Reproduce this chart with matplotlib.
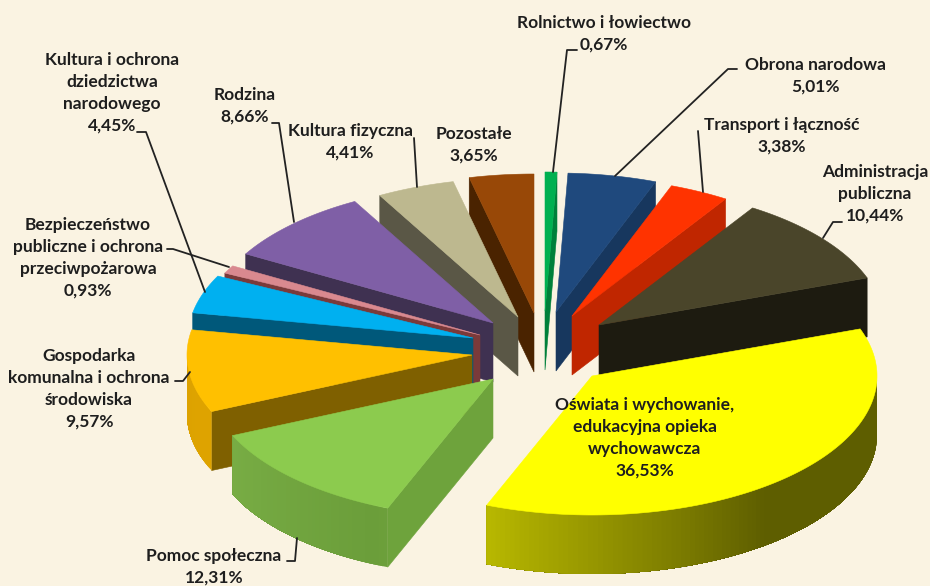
import numpy as np
import matplotlib
matplotlib.use("Agg")
import matplotlib.pyplot as plt
from matplotlib.patches import Polygon

# ---- data (clockwise from the top of the pie) ----
categories = ["Rolnictwo i łowiectwo", "Obrona narodowa", "Transport i łączność",
              "Administracja\npubliczna", "Oświata i wychowanie,\nedukacyjna opieka\nwychowawcza",
              "Pomoc społeczna", "Gospodarka\nkomunalna i ochrona\nśrodowiska",
              "Kultura i ochrona\ndziedzictwa\nnarodowego",
              "Bezpieczeństwo\npubliczne i ochrona\nprzeciwpożarowa",
              "Rodzina", "Kultura fizyczna", "Pozostałe"]
values = [0.67, 5.01, 3.38, 10.44, 36.53, 12.31, 9.57, 4.45, 0.93, 8.66, 4.41, 3.65]

# ---- style ----
top_colors = ["#00B050", "#1F497D", "#FF3300", "#4A452A", "#FFFF00", "#8CCB4E",
              "#FFC000", "#00B0F0", "#D9898F", "#7F5FA6", "#BDB88F", "#984807"]
wall_colors = ["#00803A", "#17375E", "#C02600", "#1D1B10", "#B0B000", "#6EA33C",
               "#7F6000", "#00587A", "#7A3A3A", "#3F3151", "#5A5746", "#4A2300"]
arc_light = ["#00803A", "#17375E", "#C02600", "#1D1B10", "#BDBD00", "#6B9E3A",
             "#E0A600", "#00587A", "#7A3A3A", "#3F3151", "#5A5746", "#4A2300"]
arc_dark = ["#00803A", "#17375E", "#C02600", "#1D1B10", "#5E5E00", "#7FB44A",
            "#DDA200", "#00587A", "#7A3A3A", "#3F3151", "#5A5746", "#4A2300"]
# where each slice's tip sits after being pulled out of the pie (pixels)
tip_x = [545, 556, 572, 599, 592, 493, 472, 473, 480, 493, 518, 534]
tip_y = [311, 312, 316, 325, 376, 379, 355, 338, 335, 323, 317, 313]
radius_x, radius_y, depth = 285, 139, 59
paint_order = [0, 1, 2, 3, 4, 11, 10, 9, 8, 7, 6, 5]

label_x = [604, 815, 782, 875, 645, 214, 89, 112, 88, 245, 350, 474]
label_y = [34, 76, 136, 194, 438, 567, 389, 93, 258, 106, 142, 145]
leaders = [
    [(577, 50), (567, 50), (553, 172)],
    [(737, 69), (728, 69), (615, 176)],
    [(698, 131), (703, 192)],
    [(842, 222), (833, 222), (823, 238)],
    None,
    [(287, 561), (295, 561), (297, 538)],
    [(175, 381), (183, 381), (190, 372)],
    [(137, 132), (146, 132), (205, 292)],
    [(167, 249), (173, 249), (229, 267)],
    [(272, 123), (279, 123), (294, 222)],
    [(414, 138), (417, 187)],
    None,
]
text_color = "#1E1E1E"

fig = plt.figure(figsize=(9.30, 5.86), dpi=100, facecolor="#FAF3E2")
ax = fig.add_axes([0, 0, 1, 1])
ax.set_xlim(0, 930)
ax.set_ylim(586, 0)
ax.axis("off")

edges = np.concatenate([[0], np.cumsum(values)]) / np.sum(values) * 360.0


def rim(tx, ty, t):
    r = np.radians(t)
    return tx + radius_x * np.sin(r), ty - radius_y * np.cos(r)


def mix(c1, c2, f):
    a = np.array(matplotlib.colors.to_rgb(c1))
    b = np.array(matplotlib.colors.to_rgb(c2))
    return tuple(a * (1 - f) + b * f)


def face(pts, color, z, lw=0.4):
    ax.add_patch(Polygon(pts, closed=True, facecolor=color, edgecolor=color,
                         linewidth=lw, zorder=z))


for order, i in enumerate(paint_order):
    t0, t1 = edges[i], edges[i + 1]
    tx, ty = tip_x[i], tip_y[i]
    z = 2 + order
    # straight cut walls, only those turned towards the viewer
    for t, show in ((t0, np.sin(np.radians(t0)) < 0), (t1, np.sin(np.radians(t1)) > 0)):
        if show:
            rx, ry = rim(tx, ty, t)
            face([(tx, ty), (rx, ry), (rx, ry + depth), (tx, ty + depth)], wall_colors[i], z)
    # curved outer wall on the front half: overlapping bands, last-painted on top
    a0, a1 = max(t0, 90), min(t1, 270)
    if a1 > a0:
        steps = np.linspace(a0, a1, int((a1 - a0)) + 2)
        for k in range(len(steps) - 1):
            fraction = min(abs(0.5 * (steps[k] + steps[k + 1]) - 205) / 62, 1)
            arc = np.linspace(steps[k], a1, max(len(steps) - k, 2))
            x, y = rim(tx, ty, arc)
            pts = list(zip(x, y)) + list(zip(x[::-1], y[::-1] + depth))
            face(pts, mix(arc_light[i], arc_dark[i], fraction), z, lw=0)
    # top face
    th = np.linspace(t0, t1, max(int((t1 - t0) * 2), 2) + 1)
    rx, ry = rim(tx, ty, th)
    face([(tx, ty)] + list(zip(rx, ry)), top_colors[i], z)

for i, cat in enumerate(categories):
    share = f"{values[i]:.2f}%".replace(".", ",")
    ax.text(label_x[i], label_y[i], f"{cat}\n{share}", ha="center", va="center",
            fontsize=12.5, fontweight="bold", family="Lato", color=text_color,
            linespacing=1.44, zorder=30)
    if leaders[i]:
        xs, ys = zip(*leaders[i])
        ax.plot(xs, ys, color="#222222", lw=1.3, zorder=31, solid_capstyle="round")

fig.savefig("out.png", dpi=100, facecolor=fig.get_facecolor())
